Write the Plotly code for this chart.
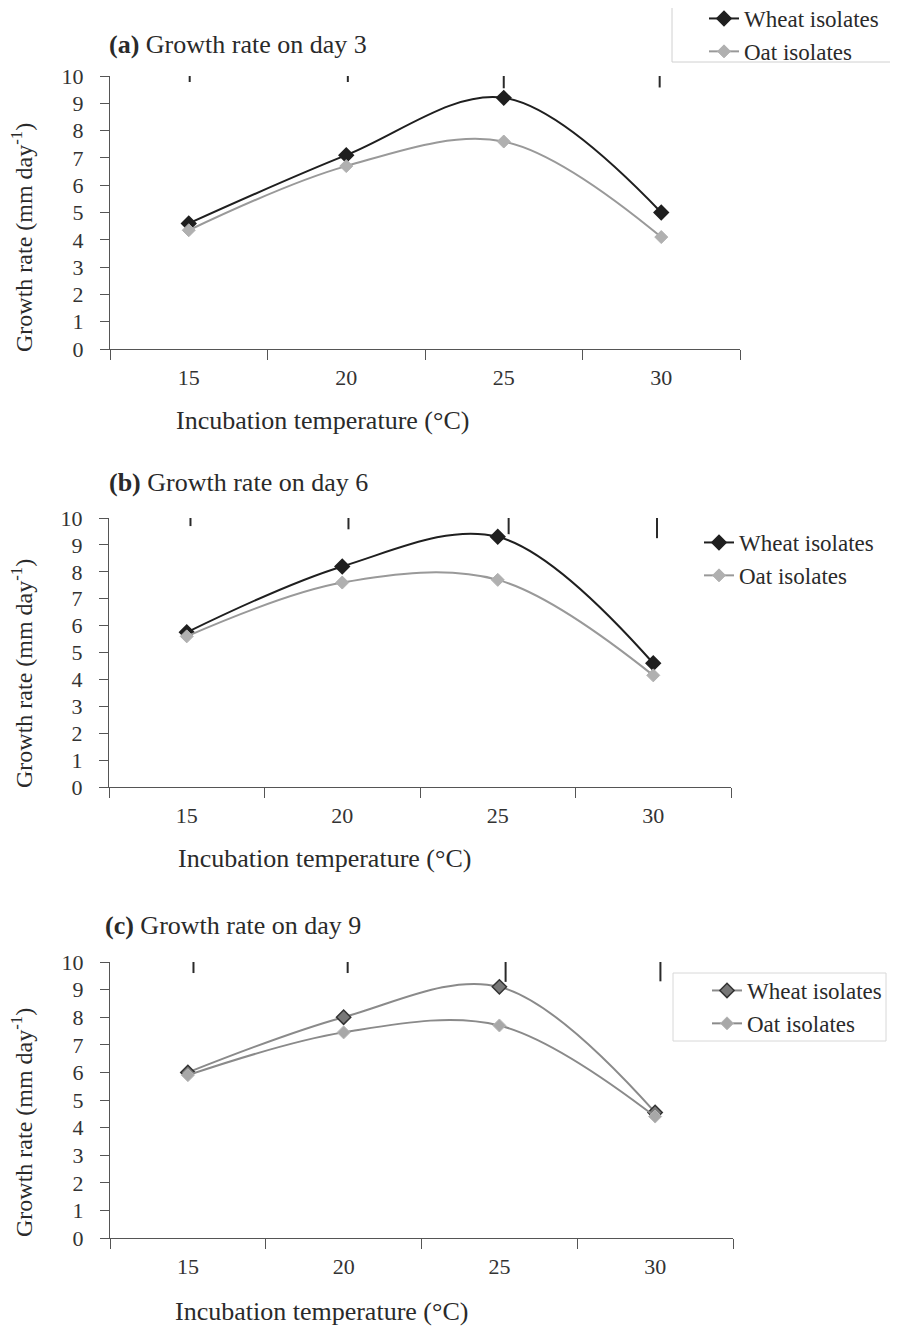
import plotly.graph_objects as go

W, H = 898, 1326

temps = [15, 20, 25, 30]
series_names = ["Wheat isolates", "Oat isolates"]
panel_titles = ["Growth rate on day 3", "Growth rate on day 6", "Growth rate on day 9"]
panel_tags = ["(a)", "(b)", "(c)"]

wheat_day3 = [4.6, 7.1, 9.2, 5.0]
oat_day3 = [4.35, 6.7, 7.6, 4.1]
wheat_day6 = [5.75, 8.2, 9.3, 4.6]
oat_day6 = [5.6, 7.6, 7.7, 4.15]
wheat_day9 = [6.0, 8.0, 9.1, 4.55]
oat_day9 = [5.9, 7.45, 7.7, 4.4]

# stray vertical marks near the top of each panel (x offset from category, length in y units)
mark_dx_a = [0.03, 0.05, 0.0, -0.05]
mark_len_a = [0.22, 0.22, 0.45, 0.42]
mark_dx_b = [0.12, 0.2, 0.35, 0.12]
mark_len_b = [0.3, 0.42, 0.6, 0.75]
mark_dx_c = [0.18, 0.13, 0.2, 0.17]
mark_len_c = [0.4, 0.4, 0.72, 0.7]

y_ticks = list(range(0, 11))
x_bounds = [12.5, 17.5, 22.5, 27.5, 32.5]

FONT = "Liberation Serif, Times New Roman, serif"
TXT = "#2a2a2a"

# the page body adds an 8px margin; compensate so the picture lines up
OFF_X, OFF_Y = 8.0, 8.0

def fx(p):
    return (p - OFF_X) / W

def fy(p):
    return 1 - (p - OFF_Y) / H

# panel geometry in reference pixels
panels = [
    dict(x0=110, x1=740, yt=76, yb=349, title_y=44, title_x=107, ytitle_y=238, xtitle_y=420, xtitle_x=322,
         leg_x=704, leg_top=-3),
    dict(x0=109, x1=731, yt=518, yb=787, title_y=482, title_x=107, ytitle_y=674, xtitle_y=858, xtitle_x=324,
         leg_x=699, leg_top=521),
    dict(x0=110, x1=733, yt=962, yb=1238, title_y=925, title_x=103, ytitle_y=1123, xtitle_y=1311, xtitle_x=321,
         leg_x=707, leg_top=969),
]

data = [
    (wheat_day3, oat_day3, mark_dx_a, mark_len_a),
    (wheat_day6, oat_day6, mark_dx_b, mark_len_b),
    (wheat_day9, oat_day9, mark_dx_c, mark_len_c),
]

styles = [
    dict(wl="#1f1f1f", wm="#1f1f1f", wo="#1f1f1f", ol="#999999", om="#b0b0b0", oo="#b0b0b0"),
    dict(wl="#1f1f1f", wm="#1f1f1f", wo="#1f1f1f", ol="#999999", om="#b0b0b0", oo="#b0b0b0"),
    dict(wl="#8a8a8a", wm="#777777", wo="#333333", ol="#8a8a8a", om="#a8a8a8", oo="#b8b8b8"),
]

legend_names = ["legend", "legend2", "legend3"]

fig = go.Figure()
layout = dict(
    width=W, height=H, margin=dict(l=0, r=0, t=0, b=0, pad=0, autoexpand=False),
    paper_bgcolor="white", plot_bgcolor="white",
    font=dict(family=FONT, size=22, color=TXT),
    annotations=[], shapes=[],
)

for i, (p, (wv, ov, mdx, mlen), st) in enumerate(zip(panels, data, styles)):
    sfx = "" if i == 0 else str(i + 1)
    xa, ya = "x" + sfx, "y" + sfx
    lg = legend_names[i]
    fig.add_trace(go.Scatter(
        x=temps, y=wv, name=series_names[0], mode="lines+markers",
        line=dict(color=st["wl"], width=2, shape="spline", smoothing=1.0),
        marker=dict(symbol="diamond", size=11, color=st["wm"], line=dict(color=st["wo"], width=1.5)),
        xaxis=xa, yaxis=ya, legend=lg,
    ))
    fig.add_trace(go.Scatter(
        x=temps, y=ov, name=series_names[1], mode="lines+markers",
        line=dict(color=st["ol"], width=2, shape="spline", smoothing=1.0),
        marker=dict(symbol="diamond", size=10, color=st["om"], line=dict(color=st["oo"], width=1)),
        xaxis=xa, yaxis=ya, legend=lg,
    ))
    mx, my = [], []
    for t, dx, ln in zip(temps, mdx, mlen):
        mx += [t + dx, t + dx, None]
        my += [10, 10 - ln, None]
    fig.add_trace(go.Scatter(
        x=mx, y=my, mode="lines", line=dict(color="#2a2a2a", width=2),
        showlegend=False, hoverinfo="skip", xaxis=xa, yaxis=ya,
    ))

    layout["xaxis" + sfx] = dict(
        domain=[fx(p["x0"]), fx(p["x1"])], anchor=ya, automargin=False,
        range=[x_bounds[0], x_bounds[-1]],
        tickmode="array", tickvals=temps, ticktext=[str(t) for t in temps],
        ticks="", showgrid=False, zeroline=False,
        showline=True, linecolor="#555555", linewidth=1,
        minor=dict(tickmode="array", tickvals=x_bounds, ticks="outside", ticklen=10,
                   tickcolor="#555555", tickwidth=1, showgrid=False),
        tickfont=dict(family=FONT, size=22, color="#333333"),
        ticklabelstandoff=9,
    )
    layout["yaxis" + sfx] = dict(
        domain=[fy(p["yb"]), fy(p["yt"])], anchor=xa, automargin=False,
        range=[0, 10], tickmode="array", tickvals=y_ticks,
        ticks="outside", ticklen=9, tickcolor="#555555", tickwidth=1,
        showgrid=False, zeroline=False,
        showline=True, linecolor="#555555", linewidth=1,
        tickfont=dict(family=FONT, size=22, color="#333333"),
        ticklabelstandoff=12,
    )
    layout["annotations"] += [
        dict(text="<b>" + panel_tags[i] + "</b> " + panel_titles[i], xref="paper", yref="paper",
             x=fx(p["title_x"]), y=fy(p["title_y"]), xanchor="left", yanchor="middle",
             showarrow=False, font=dict(family=FONT, size=26, color=TXT)),
        dict(text="Growth rate (mm day<sup>-1</sup>)", xref="paper", yref="paper",
             x=fx(22), y=fy(p["ytitle_y"]), xanchor="center", yanchor="middle",
             textangle=-90, showarrow=False, font=dict(family=FONT, size=24, color=TXT)),
        dict(text="Incubation temperature (°C)", xref="paper", yref="paper",
             x=fx(p["xtitle_x"]), y=fy(p["xtitle_y"]), xanchor="center", yanchor="middle",
             showarrow=False, font=dict(family=FONT, size=26, color=TXT)),
    ]
    layout[lg] = dict(x=fx(p["leg_x"]), y=fy(p["leg_top"]), xanchor="left", yanchor="top",
                      bgcolor="rgba(0,0,0,0)", borderwidth=0,
                      font=dict(family=FONT, size=23, color=TXT))

# legend frames
layout["shapes"] += [
    dict(type="line", xref="paper", yref="paper", x0=fx(672), x1=fx(672), y0=fy(-20), y1=fy(62),
         line=dict(color="#d0d0d0", width=1)),
    dict(type="line", xref="paper", yref="paper", x0=fx(672), x1=fx(906), y0=fy(62), y1=fy(62),
         line=dict(color="#d0d0d0", width=1)),
    dict(type="rect", xref="paper", yref="paper", x0=fx(673), x1=fx(886), y0=fy(973), y1=fy(1041),
         line=dict(color="#d8d8d8", width=1)),
]

fig.update_layout(**layout)
fig.write_html("out.html")
